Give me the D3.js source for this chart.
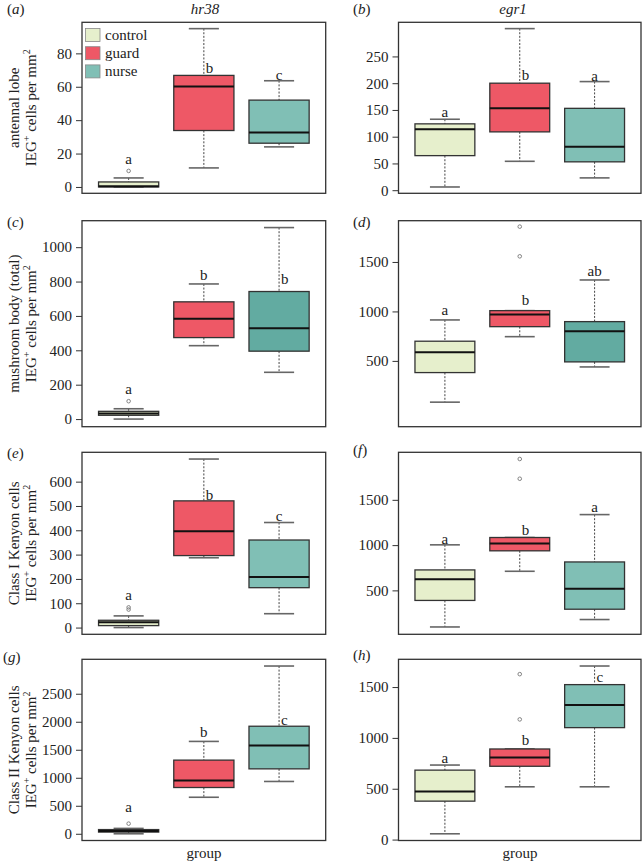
<!DOCTYPE html>
<html><head><meta charset="utf-8">
<script src="https://cdn.jsdelivr.net/npm/d3@7"></script>
<style>body{margin:0;background:#fff}svg{display:block}text{font-family:"Liberation Serif","Times New Roman",serif;fill:#222}</style>
</head><body>
<script>
// ---------- data ----------
const groups = ["control", "guard", "nurse"];
const genes = ["hr38", "egr1"];
const regions = ["antennal lobe", "mushroom body (total)", "Class I Kenyon cells", "Class II Kenyon cells"];
const panelLetters = ["a", "b", "c", "d", "e", "f", "g", "h"];

// box stats per group: [lower whisker, Q1, median, Q3, upper whisker]
const statsA = [[0, 0, 0.4, 3, 5.4], [11.4, 33.8, 60.2, 66.8, 94.8], [24, 26.2, 32.6, 52, 63.6]];
const statsB = [[6, 64.6, 114, 124, 132.6], [54, 109, 153, 200, 302], [23, 53, 81, 153, 203]];
const statsC = [[0, 22, 32, 45, 60], [427, 474, 584, 682, 786], [272, 395, 528, 742, 1114]];
const statsD = [[83, 382, 588, 699, 914], [745, 846, 968, 1008, 1008], [439, 490, 800, 897, 1318]];
const statsE = [[0, 8, 22, 30, 48], [287, 296, 396, 521, 693], [57, 164, 208, 360, 432]];
const statsF = [[96, 389, 622, 726, 1003], [711, 937, 1018, 1084, 1084], [178, 292, 518, 814, 1337]];
const statsG = [[0, 30, 48, 75, 96], [652, 826, 953, 1315, 1649], [934, 1159, 1576, 1920, 2995]];
const statsH = [[57, 378, 474, 683, 733], [519, 721, 808, 891, 891], [519, 1101, 1323, 1524, 1707]];

const outliersA = [[9.6], [], []];
const outliersB = [[], [], []];
const outliersC = [[104], [], []];
const outliersD = [[], [1557, 1857], []];
const outliersE = [[74, 83], [], []];
const outliersF = [[], [1733, 1951], []];
const outliersG = [[181], [], []];
const outliersH = [[], [1182, 1627], []];

const lettersA = ["a", "b", "c"], letterYA = [17, 71, 67];
const lettersB = ["a", "b", "a"], letterYB = [147, 215, 213];
const lettersC = ["a", "b", "b"], letterYC = [175, 837, 814];
const lettersD = ["a", "b", "ab"], letterYD = [1015, 1112, 1405];
const lettersE = ["a", "b", "c"], letterYE = [135, 547, 459];
const lettersF = ["a", "b", "a"], letterYF = [1067, 1170, 1418];
const lettersG = ["a", "b", "c"], letterYG = [471, 1812, 2040];
const lettersH = ["a", "b", "c"], letterYH = [800, 977, 1596];

const yDomainA = [-3.8, 98.6], ticksA = [0, 20, 40, 60, 80];
const yDomainB = [-5.8, 313.8], ticksB = [0, 50, 100, 150, 200, 250];
const yDomainC = [-44.4, 1154], ticksC = [0, 200, 400, 600, 800, 1000];
const yDomainD = [-165, 1917], ticksD = [500, 1000, 1500];
const yDomainE = [-27.7, 720.7], ticksE = [0, 100, 200, 300, 400, 500, 600];
const yDomainF = [15, 2025], ticksF = [500, 1000, 1500];
const yDomainG = [-120, 3115], ticksG = [0, 500, 1000, 1500, 2000, 2500];
const yDomainH = [-9, 1773], ticksH = [0, 500, 1000, 1500];

// ---------- style / layout ----------
const colors = {control: "#e6efcc", guard: "#ee5866", nurse: "#80bfb5"};
const nurseDark = "#62aba1";
const W = 642, H = 861;
const colX = [[82, 325.7], [398.5, 641]];
const rowY = [[22.3, 193.3], [220.7, 426.7], [452.3, 634.3], [659.3, 840.5]];
const labelPos = [[7, 14], [353, 14], [7, 227], [353, 227], [7, 458], [353, 455], [3, 662], [353, 660]];

const panels = [
  {stats: statsA, out: outliersA, let: lettersA, ly: letterYA, dom: yDomainA, ticks: ticksA},
  {stats: statsB, out: outliersB, let: lettersB, ly: letterYB, dom: yDomainB, ticks: ticksB},
  {stats: statsC, out: outliersC, let: lettersC, ly: letterYC, dom: yDomainC, ticks: ticksC, dark: true},
  {stats: statsD, out: outliersD, let: lettersD, ly: letterYD, dom: yDomainD, ticks: ticksD, dark: true},
  {stats: statsE, out: outliersE, let: lettersE, ly: letterYE, dom: yDomainE, ticks: ticksE},
  {stats: statsF, out: outliersF, let: lettersF, ly: letterYF, dom: yDomainF, ticks: ticksF},
  {stats: statsG, out: outliersG, let: lettersG, ly: letterYG, dom: yDomainG, ticks: ticksG},
  {stats: statsH, out: outliersH, let: lettersH, ly: letterYH, dom: yDomainH, ticks: ticksH}
];

const svg = d3.select("body").append("svg").attr("width", W).attr("height", H);

panels.forEach((p, i) => {
  const col = i % 2, row = Math.floor(i / 2);
  const [x0, x1] = colX[col], [y0, y1] = rowY[row];
  const x = d3.scaleLinear().domain([0.38, 3.62]).range([x0, x1]);
  const y = d3.scaleLinear().domain(p.dom).range([y1, y0]);
  const g = svg.append("g");

  // y axis
  const ax = g.append("g").attr("transform", `translate(${x0},0)`)
    .call(d3.axisLeft(y).tickValues(p.ticks).tickSize(6).tickPadding(4).tickFormat(d3.format("d")));
  ax.select(".domain").remove();
  ax.selectAll(".tick line").attr("stroke", "#333").attr("stroke-width", 1);
  ax.selectAll(".tick text").attr("font-size", 15).attr("fill", "#222")
    .style("font-family", '"Liberation Serif",serif');

  groups.forEach((grp, k) => {
    const [lo, q1, med, q3, hi] = p.stats[k];
    const cx = x(k + 1), bw = x(1.4) - x(1), cw = x(1.2) - x(1);
    const fill = (grp === "nurse" && p.dark) ? nurseDark : colors[grp];
    // whiskers
    g.append("line").attr("x1", cx).attr("x2", cx).attr("y1", y(hi)).attr("y2", y(q3))
      .attr("stroke", "#444").attr("stroke-width", 1).attr("stroke-dasharray", "2,1.6");
    g.append("line").attr("x1", cx).attr("x2", cx).attr("y1", y(q1)).attr("y2", y(lo))
      .attr("stroke", "#444").attr("stroke-width", 1).attr("stroke-dasharray", "2,1.6");
    [lo, hi].forEach(v => g.append("line").attr("x1", cx - cw).attr("x2", cx + cw)
      .attr("y1", y(v)).attr("y2", y(v)).attr("stroke", "#666").attr("stroke-width", 1.6));
    // box
    g.append("rect").attr("x", cx - bw).attr("width", 2 * bw)
      .attr("y", y(q3)).attr("height", Math.max(0.5, y(q1) - y(q3)))
      .attr("fill", fill).attr("stroke", "#333").attr("stroke-width", 1.3);
    g.append("line").attr("x1", cx - bw).attr("x2", cx + bw).attr("y1", y(med)).attr("y2", y(med))
      .attr("stroke", "#111").attr("stroke-width", 2);
    // outliers
    p.out[k].forEach(v => g.append("circle").attr("cx", cx).attr("cy", y(v)).attr("r", 1.8)
      .attr("fill", "none").attr("stroke", "#777").attr("stroke-width", 0.9));
    // letters
    const allMax = Math.max(hi, ...p.out[k]);
    const inside = p.ly[k] > lo && p.ly[k] < allMax;
    g.append("text").attr("x", inside ? cx + 2 : cx).attr("y", y(p.ly[k]) + 5)
      .attr("text-anchor", inside ? "start" : "middle").attr("font-size", 15).text(p.let[k]);
  });

  // frame
  g.append("rect").attr("x", x0).attr("y", y0).attr("width", x1 - x0).attr("height", y1 - y0)
    .attr("fill", "none").attr("stroke", "#333").attr("stroke-width", 1.3);

  // panel label
  const lt = svg.append("text").attr("x", labelPos[i][0]).attr("y", labelPos[i][1]).attr("font-size", 15);
  lt.append("tspan").text("(");
  lt.append("tspan").attr("font-style", "italic").text(panelLetters[i]);
  lt.append("tspan").text(")");

  // y title (left column only)
  if (col === 0) {
    const cy = (y0 + y1) / 2;
    svg.append("text").attr("transform", `translate(19,${cy}) rotate(-90)`)
      .attr("text-anchor", "middle").attr("font-size", 15).text(regions[row]);
    const t2 = svg.append("text").attr("transform", `translate(36,${cy}) rotate(-90)`)
      .attr("text-anchor", "middle").attr("font-size", 15);
    t2.append("tspan").text("IEG");
    t2.append("tspan").attr("font-size", 10).attr("dy", -6).text("+");
    t2.append("tspan").attr("dy", 6).text(" cells per mm");
    t2.append("tspan").attr("font-size", 10).attr("dy", -6).text("2");
  }
});

// gene titles
svg.append("text").attr("x", 205).attr("y", 14).attr("text-anchor", "middle")
  .attr("font-size", 15).attr("font-style", "italic").text(genes[0]);
svg.append("text").attr("x", 513).attr("y", 14).attr("text-anchor", "middle")
  .attr("font-size", 15).attr("font-style", "italic").text(genes[1]);

// x titles
svg.append("text").attr("x", 204).attr("y", 858).attr("text-anchor", "middle").attr("font-size", 15).text("group");
svg.append("text").attr("x", 520).attr("y", 858).attr("text-anchor", "middle").attr("font-size", 15).text("group");

// legend
const leg = svg.append("g");
groups.forEach((grp, k) => {
  leg.append("rect").attr("x", 85.5).attr("y", 28.5 + k * 18.2).attr("width", 14.5).attr("height", 13)
    .attr("fill", colors[grp]).attr("stroke", "#888").attr("stroke-width", 0.8);
  leg.append("text").attr("x", 105).attr("y", 39.5 + k * 18.2).attr("font-size", 15).text(grp);
});
</script>
</body></html>
